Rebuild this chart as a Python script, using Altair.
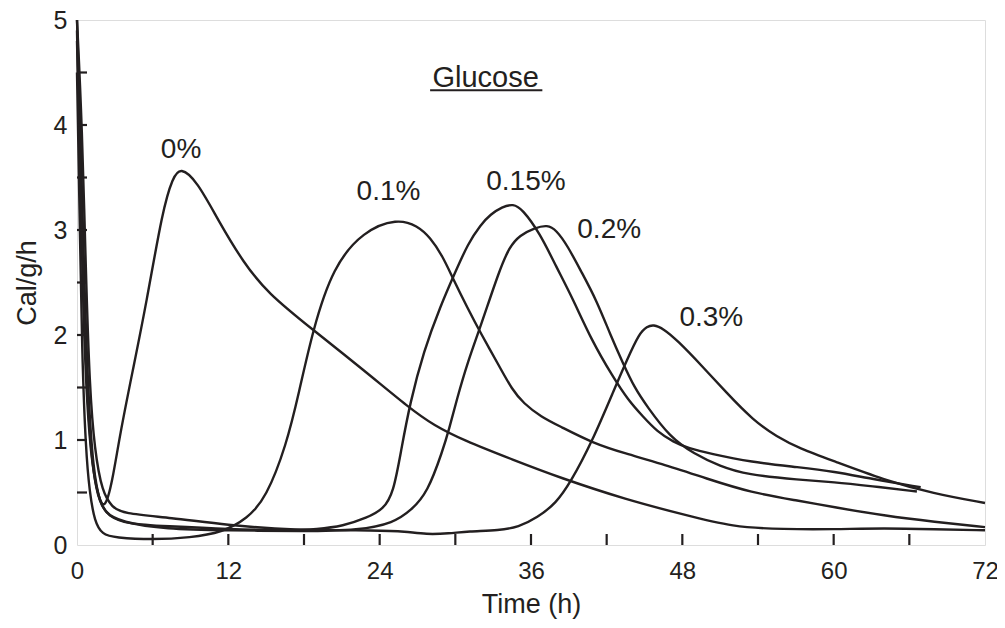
import altair as alt
import pandas as pd

# ---- data (Time h, Cal/g/h) ----
t_0 = [0, 0.25, 0.5, 0.8, 1.2, 1.7, 2.2, 2.8, 3.4, 4.4, 5.5, 6.8, 7.6, 8.2, 9.5, 11.3, 13.2, 15.1, 18.7,
       22.7, 26.4, 28.3, 30.6, 34.6, 38.3, 43.6, 48.1, 52, 56, 60, 64, 68, 72]
v_0 = [4.9, 3.5, 2.2, 1.3, 0.75, 0.45, 0.33, 0.6, 1.05, 1.65, 2.3, 3.2, 3.5, 3.6, 3.47, 3.07, 2.69, 2.4, 2.05,
       1.67, 1.3, 1.14, 1.0, 0.81, 0.64, 0.43, 0.29, 0.17, 0.15, 0.15, 0.16, 0.15, 0.14]

t_01 = [0, 0.2, 0.4, 0.7, 1.0, 1.4, 2, 3, 6, 9, 11.5, 13.5, 15, 16.6, 17.6, 18.7, 20.3, 22.7, 25.4, 27, 28,
        29, 29.8, 31, 32, 33.5, 34.5, 35.4, 36.8, 38.3, 40.9, 43.5, 46.2, 50, 53.4, 57.3, 60, 64, 68, 72]
v_01 = [4.5, 3.2, 1.8, 0.9, 0.5, 0.22, 0.1, 0.07, 0.05, 0.07, 0.12, 0.25, 0.45, 0.95, 1.45, 2.05, 2.65, 2.99,
        3.11, 3.04, 2.93, 2.75, 2.54, 2.25, 2.02, 1.7, 1.48, 1.35, 1.22, 1.13, 0.97, 0.87, 0.78, 0.63, 0.5,
        0.42, 0.36, 0.28, 0.22, 0.17]

t_015 = [0, 0.3, 0.6, 0.9, 1.3, 1.8, 2.5, 4, 7, 12, 17, 19, 21.1, 23, 24.3, 25.1, 25.7, 26.4, 27.5, 28.8, 30,
         31, 32, 32.8, 33.7, 34.6, 35.3, 36.7, 38, 39.3, 40.8, 42.5, 43.7, 44.9, 46, 47.3, 48.5, 50.2, 53.4,
         57.3, 60, 63, 66.9]
v_015 = [5.0, 3.8, 2.4, 1.4, 0.7, 0.4, 0.27, 0.2, 0.18, 0.15, 0.14, 0.15, 0.18, 0.26, 0.34, 0.5, 0.9, 1.35,
         1.85, 2.27, 2.6, 2.87, 3.05, 3.15, 3.22, 3.25, 3.2, 2.97, 2.65, 2.35, 1.95, 1.6, 1.38, 1.22, 1.08,
         0.98, 0.92, 0.87, 0.79, 0.74, 0.7, 0.63, 0.55]

t_02 = [0, 0.3, 0.6, 1.0, 1.5, 2.2, 3.5, 7, 12, 18, 22.4, 25.1, 26.5, 27.8, 29, 29.5, 30.1, 31, 32, 33.5,
        34.3, 35.1, 36.3, 37.3, 38, 38.9, 40, 41.2, 42.3, 43.3, 44.2, 45.2, 47, 48.9, 51, 53.1, 57.3, 60,
        63, 66.6]
v_02 = [4.8, 3.3, 2.0, 1.0, 0.5, 0.3, 0.22, 0.15, 0.14, 0.13, 0.14, 0.21, 0.33, 0.5, 0.9, 1.1, 1.38, 1.75,
        2.08, 2.62, 2.84, 2.95, 3.02, 3.05, 3.0, 2.85, 2.6, 2.33, 2.0, 1.73, 1.5, 1.32, 1.03, 0.87, 0.75,
        0.67, 0.62, 0.6, 0.56, 0.51]

t_03 = [0, 0.4, 0.7, 1.0, 1.4, 2.0, 2.8, 3.6, 7.4, 11.9, 17, 24, 26, 27.7, 29.5, 31, 33.5, 35, 36.5, 38,
        39.1, 40.8, 42.7, 43.6, 44.6, 45.2, 45.7, 46.5, 47.6, 49.6, 51.5, 53.6, 55.5, 57.3, 60, 64, 67.9, 72]
v_03 = [5.0, 4.0, 2.6, 1.5, 0.9, 0.5, 0.36, 0.3, 0.26, 0.19, 0.14, 0.14, 0.13, 0.1, 0.11, 0.13, 0.14, 0.17,
        0.26, 0.4, 0.59, 0.97, 1.51, 1.76, 2.02, 2.08, 2.1, 2.06, 1.95, 1.7, 1.45, 1.19, 1.03, 0.92, 0.8,
        0.62, 0.49, 0.4]

series_names = ["0%", "0.1%", "0.15%", "0.2%", "0.3%"]
series_t = [t_0, t_01, t_015, t_02, t_03]
series_v = [v_0, v_01, v_015, v_02, v_03]

# curve labels
lab_text = ["0%", "0.1%", "0.15%", "0.2%", "0.3%"]
lab_t = [8.25, 24.7, 35.6, 42.2, 50.3]
lab_v = [3.69, 3.29, 3.38, 2.92, 2.09]

# panel title
title_text = ["Glucose"]
title_t = [32.4]
title_v = [4.36]
underline_t = [28.0]
underline_t2 = [36.9]
underline_v = [4.33]

# axis ticks
x_labels = [0, 12, 24, 36, 48, 60, 72]
x_ticks = [6, 12, 18, 24, 30, 36, 42, 48, 54, 60, 66]
y_labels = [0, 1, 2, 3, 4, 5]
y_ticks = [0.5, 1, 1.5, 2, 2.5, 3, 3.5, 4, 4.5]

INK = "#231f20"
FONT = "Liberation Sans"
W, H = 908, 525

rows = []
for name, ts, vs in zip(series_names, series_t, series_v):
    for i, (t, v) in enumerate(zip(ts, vs)):
        rows.append({"series": name, "t": t, "v": v, "order": i})
df = pd.DataFrame(rows)

xs = alt.Scale(domain=[0, 72], nice=False, zero=False)
ys = alt.Scale(domain=[0, 5], nice=False, zero=False)

lines = alt.Chart(df).mark_line(color=INK, strokeWidth=2.4, interpolate="basis").encode(
    x=alt.X("t:Q", scale=xs,
            axis=alt.Axis(title="Time (h)", values=x_labels, format="d", ticks=False, domain=False,
                          grid=False, labelFontSize=24, labelFont=FONT, labelColor=INK, labelPadding=14,
                          titleFontSize=27, titleFont=FONT, titleColor=INK, titleFontWeight="normal",
                          titlePadding=8, labelFlush=False)),
    y=alt.Y("v:Q", scale=ys,
            axis=alt.Axis(title="Cal/g/h", values=y_labels, format="d", ticks=False, domain=False,
                          grid=False, labelFontSize=25, labelFont=FONT, labelColor=INK, labelPadding=10,
                          titleFontSize=27, titleFont=FONT, titleColor=INK, titleFontWeight="normal",
                          titlePadding=12, labelFlush=False)),
    detail="series:N",
    order="order:Q",
)

xtick_df = pd.DataFrame({"t": x_ticks})
xt = alt.Chart(xtick_df).mark_rule(color=INK, strokeWidth=2.2).encode(
    x=alt.X("t:Q", scale=xs), y=alt.value(H), y2=alt.value(H - 11))

ytick_df = pd.DataFrame({"v": y_ticks})
yt = alt.Chart(ytick_df).mark_rule(color=INK, strokeWidth=2.2).encode(
    y=alt.Y("v:Q", scale=ys), x=alt.value(0), x2=alt.value(10))

lab_df = pd.DataFrame({"text": lab_text, "t": lab_t, "v": lab_v})
labels = alt.Chart(lab_df).mark_text(fontSize=28, font=FONT, color=INK, align="center",
                                     baseline="alphabetic").encode(
    x=alt.X("t:Q", scale=xs), y=alt.Y("v:Q", scale=ys), text="text:N")

ttl_df = pd.DataFrame({"text": title_text, "t": title_t, "v": title_v})
ttl = alt.Chart(ttl_df).mark_text(fontSize=29, font=FONT, color=INK, align="center",
                                  baseline="alphabetic").encode(
    x=alt.X("t:Q", scale=xs), y=alt.Y("v:Q", scale=ys), text="text:N")

ul_df = pd.DataFrame({"t": underline_t, "t2": underline_t2, "v": underline_v})
ul = alt.Chart(ul_df).mark_rule(color=INK, strokeWidth=2).encode(
    x=alt.X("t:Q", scale=xs), x2="t2:Q", y=alt.Y("v:Q", scale=ys))

chart = alt.layer(lines, xt, yt, labels, ttl, ul).properties(
    width=W, height=H,
    autosize=alt.AutoSizeParams(type="none"),
    padding={"left": 69, "top": 12, "right": 12, "bottom": 74},
).configure_view(stroke=INK, strokeWidth=2.6).configure(background="white")

chart.save("out.html", embed_options={"renderer": "svg", "actions": False})
